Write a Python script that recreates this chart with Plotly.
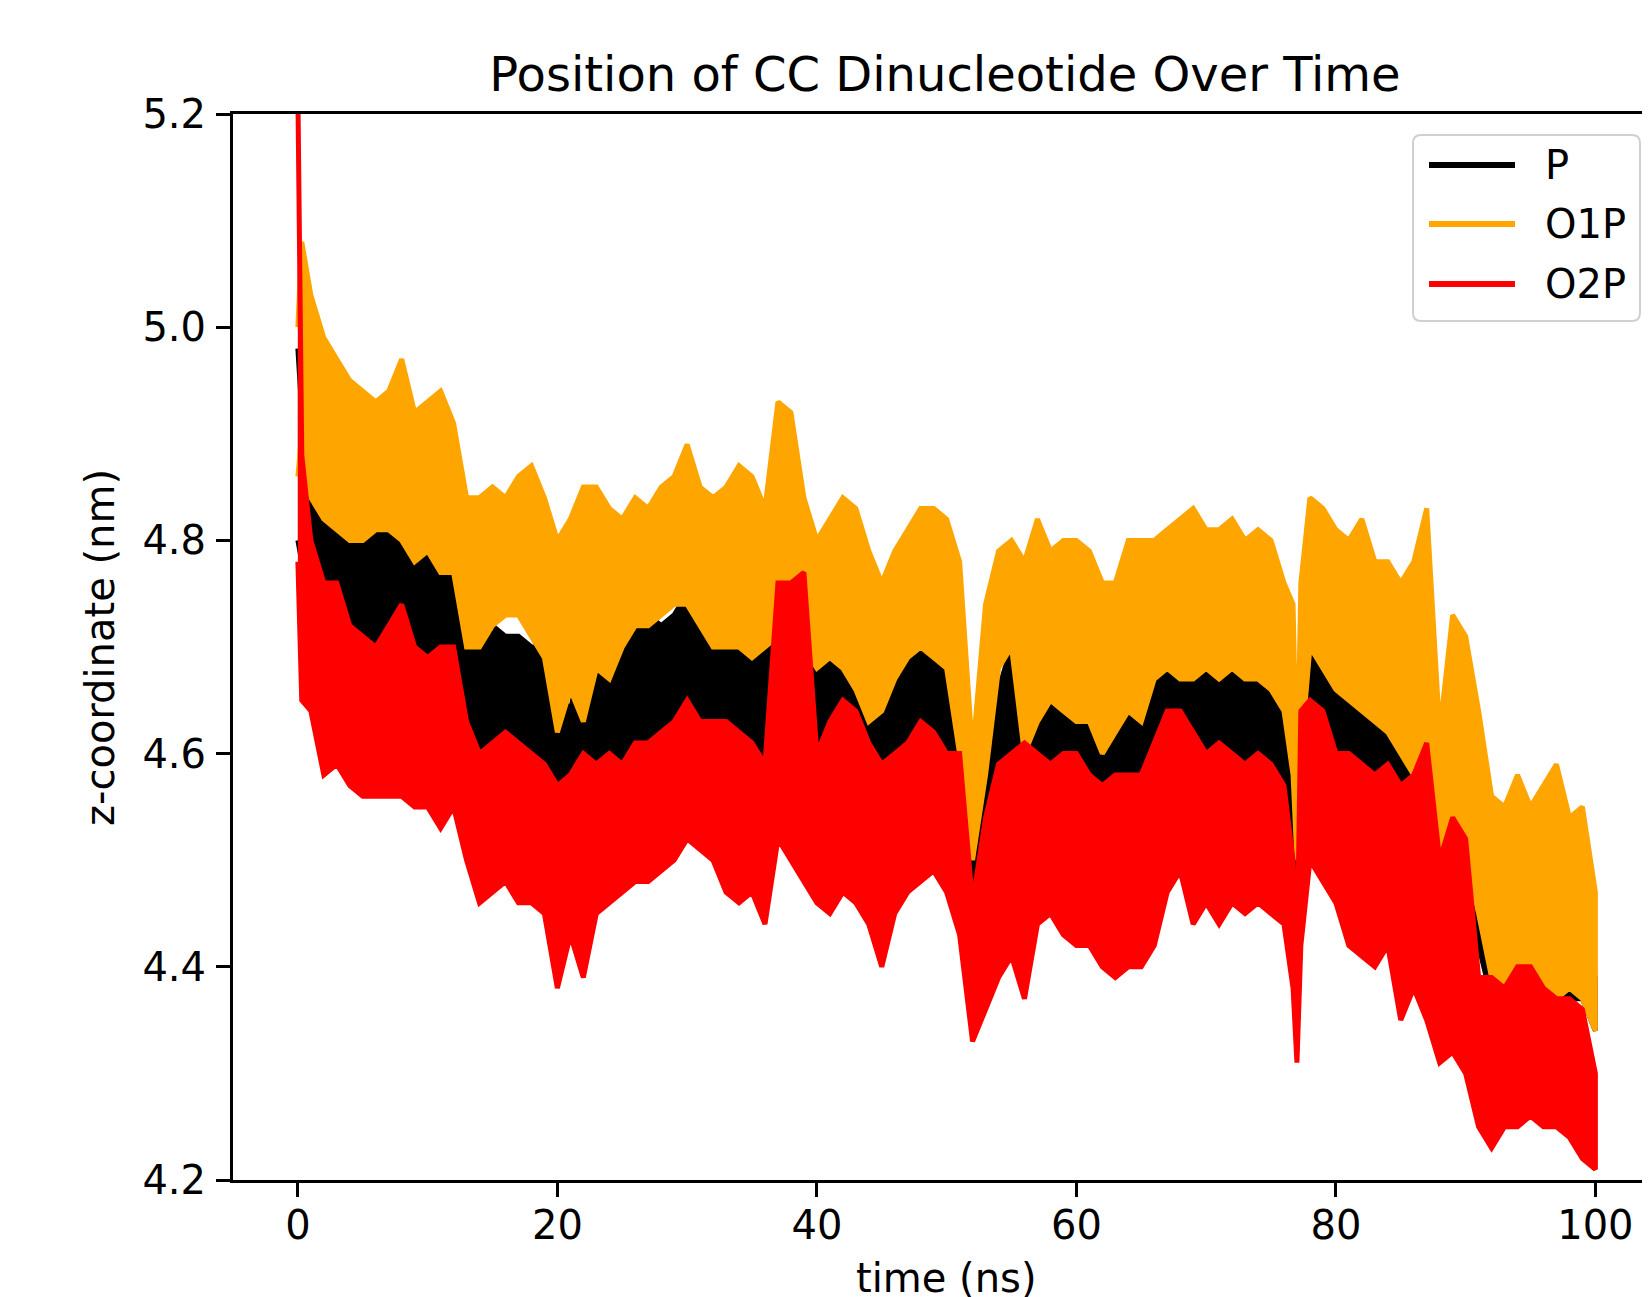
import plotly.graph_objects as go

# ---------------- data ----------------
TIME_NS = [0, 0.3] + list(range(1, 77)) + [76.7, 77, 77.3] + list(range(78, 101))

SERIES_NAMES = ["P", "O1P", "O2P"]
SERIES_COLORS = ["#000000", "#FFA500", "#FF0000"]

# upper / lower envelope of each noisy trace (nm)
P_HI = [4.98, 4.92,
        4.90, 4.82, 4.85, 4.82, 4.82, 4.81, 4.82, 4.83, 4.82, 4.81,
        4.82, 4.81, 4.72, 4.71, 4.72, 4.71, 4.71, 4.70, 4.70, 4.66,
        4.64, 4.70, 4.71, 4.72, 4.71, 4.72, 4.73, 4.72, 4.73, 4.75,
        4.74, 4.72, 4.73, 4.74, 4.72, 4.71, 4.74, 4.77, 4.72, 4.70,
        4.70, 4.72, 4.70, 4.67, 4.65, 4.68, 4.69, 4.70, 4.70, 4.69,
        4.62, 4.51, 4.60, 4.66, 4.70, 4.66, 4.67, 4.68, 4.68, 4.67,
        4.67, 4.66, 4.67, 4.67, 4.67, 4.68, 4.68, 4.69, 4.68, 4.68,
        4.69, 4.68, 4.68, 4.68, 4.67, 4.66,
        4.60, 4.50, 4.62,
        4.71, 4.68, 4.68,
        4.67, 4.67, 4.66, 4.66, 4.66, 4.65, 4.64, 4.49, 4.56, 4.55,
        4.47, 4.43, 4.42, 4.42, 4.41, 4.42, 4.41, 4.40, 4.41, 4.39]
P_LO = [4.80, 4.78,
        4.76, 4.74, 4.73, 4.71, 4.71, 4.70, 4.71, 4.72, 4.70, 4.69,
        4.70, 4.68, 4.61, 4.60, 4.61, 4.61, 4.60, 4.60, 4.59, 4.54,
        4.57, 4.58, 4.57, 4.58, 4.58, 4.59, 4.59, 4.60, 4.61, 4.62,
        4.61, 4.61, 4.61, 4.61, 4.60, 4.58, 4.60, 4.62, 4.59, 4.58,
        4.58, 4.60, 4.59, 4.56, 4.55, 4.57, 4.58, 4.60, 4.60, 4.58,
        4.53, 4.45, 4.52, 4.56, 4.58, 4.57, 4.57, 4.57, 4.58, 4.57,
        4.57, 4.56, 4.57, 4.58, 4.58, 4.59, 4.61, 4.61, 4.58, 4.58,
        4.59, 4.58, 4.58, 4.58, 4.57, 4.56,
        4.52, 4.47, 4.52,
        4.62, 4.60, 4.58,
        4.58, 4.57, 4.56, 4.56, 4.55, 4.55, 4.55, 4.45, 4.52, 4.47,
        4.42, 4.37, 4.37, 4.38, 4.37, 4.38, 4.37, 4.37, 4.37, 4.34]

O1P_HI = [5.00, 5.08,
          5.03, 4.99, 4.97, 4.95, 4.94, 4.93, 4.94, 4.97, 4.92, 4.93,
          4.94, 4.91, 4.84, 4.84, 4.85, 4.84, 4.86, 4.87, 4.84, 4.80,
          4.82, 4.85, 4.85, 4.83, 4.82, 4.84, 4.83, 4.85, 4.86, 4.89,
          4.85, 4.84, 4.85, 4.87, 4.86, 4.83, 4.93, 4.92, 4.84, 4.80,
          4.82, 4.84, 4.83, 4.79, 4.76, 4.79, 4.81, 4.83, 4.83, 4.82,
          4.78, 4.60, 4.74, 4.79, 4.80, 4.78, 4.82, 4.79, 4.80, 4.80,
          4.79, 4.76, 4.76, 4.80, 4.80, 4.80, 4.81, 4.82, 4.83, 4.81,
          4.81, 4.82, 4.80, 4.81, 4.80, 4.76,
          4.74, 4.56, 4.76,
          4.84, 4.83, 4.81,
          4.80, 4.82, 4.78, 4.78, 4.76, 4.78, 4.83, 4.62, 4.73, 4.71,
          4.64, 4.56, 4.55, 4.58, 4.55, 4.57, 4.59, 4.54, 4.55, 4.47]
O1P_LO = [4.86, 4.90,
          4.84, 4.82, 4.81, 4.80, 4.80, 4.81, 4.81, 4.80, 4.78, 4.79,
          4.77, 4.77, 4.70, 4.70, 4.72, 4.73, 4.73, 4.71, 4.69, 4.62,
          4.66, 4.63, 4.68, 4.67, 4.70, 4.72, 4.72, 4.73, 4.74, 4.74,
          4.72, 4.70, 4.70, 4.70, 4.69, 4.70, 4.71, 4.72, 4.70, 4.68,
          4.69, 4.68, 4.66, 4.63, 4.64, 4.67, 4.69, 4.70, 4.69, 4.68,
          4.60, 4.50, 4.58, 4.68, 4.70, 4.60, 4.63, 4.65, 4.64, 4.63,
          4.63, 4.60, 4.62, 4.64, 4.63, 4.67, 4.68, 4.67, 4.67, 4.68,
          4.67, 4.68, 4.67, 4.67, 4.66, 4.64,
          4.58, 4.50, 4.60,
          4.70, 4.68, 4.66,
          4.65, 4.64, 4.63, 4.62, 4.60, 4.58, 4.60, 4.47, 4.53, 4.50,
          4.45, 4.39, 4.38, 4.38, 4.39, 4.38, 4.37, 4.38, 4.37, 4.34]

O2P_HI = [5.22, 4.88,
          4.80, 4.76, 4.76, 4.72, 4.71, 4.70, 4.72, 4.74, 4.70, 4.69,
          4.70, 4.70, 4.63, 4.60, 4.61, 4.62, 4.61, 4.60, 4.59, 4.57,
          4.58, 4.60, 4.59, 4.60, 4.59, 4.61, 4.61, 4.62, 4.63, 4.65,
          4.63, 4.63, 4.63, 4.62, 4.61, 4.59, 4.76, 4.76, 4.77, 4.60,
          4.63, 4.65, 4.64, 4.61, 4.59, 4.60, 4.61, 4.63, 4.62, 4.60,
          4.60, 4.46, 4.54, 4.59, 4.60, 4.61, 4.60, 4.59, 4.60, 4.60,
          4.58, 4.57, 4.58, 4.58, 4.58, 4.61, 4.64, 4.64, 4.62, 4.60,
          4.61, 4.60, 4.59, 4.60, 4.59, 4.57,
          4.50, 4.40, 4.64,
          4.65, 4.64, 4.60,
          4.60, 4.59, 4.58, 4.59, 4.57, 4.58, 4.61, 4.50, 4.54, 4.52,
          4.39, 4.39, 4.38, 4.40, 4.40, 4.38, 4.37, 4.37, 4.36, 4.30]
O2P_LO = [4.78, 4.65,
          4.64, 4.58, 4.59, 4.57, 4.56, 4.56, 4.56, 4.56, 4.55, 4.55,
          4.53, 4.55, 4.50, 4.46, 4.47, 4.48, 4.46, 4.46, 4.45, 4.38,
          4.43, 4.39, 4.45, 4.46, 4.47, 4.48, 4.48, 4.49, 4.50, 4.52,
          4.51, 4.50, 4.47, 4.46, 4.47, 4.44, 4.52, 4.50, 4.48, 4.46,
          4.45, 4.47, 4.46, 4.44, 4.40, 4.45, 4.47, 4.48, 4.49, 4.47,
          4.43, 4.33, 4.36, 4.39, 4.41, 4.37, 4.44, 4.45, 4.43, 4.42,
          4.42, 4.40, 4.39, 4.40, 4.40, 4.42, 4.47, 4.49, 4.44, 4.46,
          4.44, 4.46, 4.45, 4.46, 4.45, 4.44,
          4.38, 4.31, 4.42,
          4.50, 4.48, 4.46,
          4.42, 4.41, 4.40, 4.42, 4.35, 4.38, 4.35, 4.31, 4.32, 4.30,
          4.25, 4.23, 4.25, 4.25, 4.26, 4.25, 4.25, 4.24, 4.22, 4.21]

X_TICKS = [0, 20, 40, 60, 80, 100]
Y_TICKS = [4.2, 4.4, 4.6, 4.8, 5.0, 5.2]

TITLE = "Position of CC Dinucleotide Over Time"
X_LABEL = "time (ns)"
Y_LABEL = "z-coordinate (nm)"

# ---------------- figure ----------------
FONT = "DejaVu Sans"
OFF = 8                     # page body margin of the html page
W, H = 1642, 1289
ML, MR, MT, MB = 225, 0, 106, 117

envelopes = [(P_HI, P_LO), (O1P_HI, O1P_LO), (O2P_HI, O2P_LO)]

fig = go.Figure()
for name, color, (hi, lo) in zip(SERIES_NAMES, SERIES_COLORS, envelopes):
    fig.add_trace(go.Scatter(
        x=TIME_NS + TIME_NS[::-1],
        y=hi + lo[::-1],
        mode="lines",
        fill="toself",
        fillcolor=color,
        line=dict(color=color, width=5),
        name=name,
        showlegend=False,
        hoverinfo="skip",
    ))

fig.update_layout(
    width=W, height=H,
    margin=dict(l=ML, r=MR, t=MT, b=MB),
    paper_bgcolor="white", plot_bgcolor="white",
    font=dict(family=FONT, size=40, color="black"),
    title=dict(text=TITLE, font=dict(family=FONT, size=48, color="black"),
               x=(945 - OFF) / W, xref="container", xanchor="center",
               y=1 - (74 - OFF) / H, yref="container", yanchor="middle"),
    showlegend=False,
)

fig.update_xaxes(
    range=[-5, 104.21], tickvals=X_TICKS, ticktext=[str(v) for v in X_TICKS],
    showgrid=False, zeroline=False, automargin=False,
    showline=True, linecolor="black", linewidth=3, mirror=True,
    ticks="outside", ticklen=14, tickwidth=3, tickcolor="black",
    ticklabelstandoff=-6,
    tickfont=dict(family=FONT, size=40, color="black"),
)
fig.update_yaxes(
    range=[4.2, 5.2], tickvals=Y_TICKS, ticktext=[f"{v:.1f}" for v in Y_TICKS],
    showgrid=False, zeroline=False, automargin=False,
    showline=True, linecolor="black", linewidth=3, mirror=False,
    ticks="outside", ticklen=14, tickwidth=3, tickcolor="black",
    ticklabelstandoff=2,
    tickfont=dict(family=FONT, size=40, color="black"),
)

PW = W - ML - MR
PH = H - MT - MB


def px_to_paper_x(sx):
    return (sx - OFF - ML) / PW


def px_to_paper_y(sy):
    return (H - MB - (sy - OFF)) / PH


# axis labels
fig.add_annotation(text=X_LABEL, xref="paper", yref="paper",
                   x=px_to_paper_x(946), y=px_to_paper_y(1278),
                   xanchor="center", yanchor="middle", showarrow=False,
                   font=dict(family=FONT, size=40, color="black"))
fig.add_annotation(text=Y_LABEL, xref="paper", yref="paper",
                   x=px_to_paper_x(100), y=px_to_paper_y(648),
                   xanchor="center", yanchor="middle", showarrow=False,
                   textangle=-90,
                   font=dict(family=FONT, size=40, color="black"))

# legend (drawn like matplotlib's: rounded frame, long line samples)
bx0, bx1 = px_to_paper_x(1413), px_to_paper_x(1640)
by0, by1 = px_to_paper_y(321), px_to_paper_y(135)
rx, ry = 8 / PW, 8 / PH
path = (f"M {bx0 + rx},{by0} L {bx1 - rx},{by0} Q {bx1},{by0} {bx1},{by0 + ry} "
        f"L {bx1},{by1 - ry} Q {bx1},{by1} {bx1 - rx},{by1} "
        f"L {bx0 + rx},{by1} Q {bx0},{by1} {bx0},{by1 - ry} "
        f"L {bx0},{by0 + ry} Q {bx0},{by0} {bx0 + rx},{by0} Z")
fig.add_shape(type="path", path=path, xref="paper", yref="paper",
              fillcolor="rgba(255,255,255,0.8)",
              line=dict(color="#d0d0d0", width=2), layer="above")
row_y = [165, 224, 284]
for name, color, ry_px in zip(SERIES_NAMES, SERIES_COLORS, row_y):
    yy = px_to_paper_y(ry_px)
    fig.add_shape(type="line", xref="paper", yref="paper",
                  x0=px_to_paper_x(1429), x1=px_to_paper_x(1515), y0=yy, y1=yy,
                  line=dict(color=color, width=6), layer="above")
    fig.add_annotation(text=name, xref="paper", yref="paper",
                       x=px_to_paper_x(1543), y=yy, xanchor="left", yanchor="middle",
                       showarrow=False,
                       font=dict(family=FONT, size=40, color="black"))

fig.write_html("out.html")
